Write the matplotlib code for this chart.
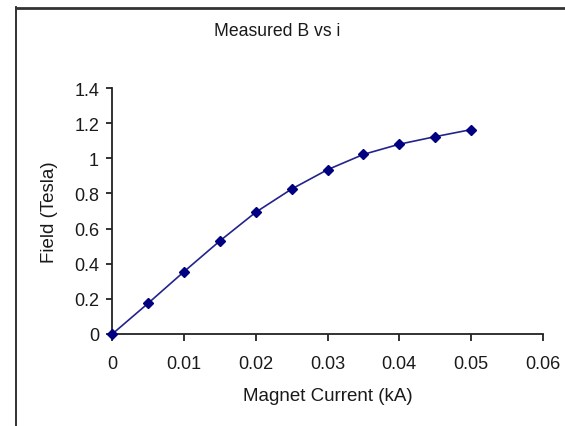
import matplotlib
matplotlib.use("Agg")
import matplotlib.pyplot as plt
from matplotlib.lines import Line2D

current_kA = [0.0, 0.005, 0.01, 0.015, 0.02, 0.025, 0.03, 0.035, 0.04, 0.045, 0.05]
field_T = [0.0, 0.175, 0.355, 0.53, 0.693, 0.825, 0.935, 1.022, 1.08, 1.123, 1.163]
x_ticks = [0, 0.01, 0.02, 0.03, 0.04, 0.05, 0.06]
x_tick_labels = ["0", "0.01", "0.02", "0.03", "0.04", "0.05", "0.06"]
y_ticks = [0, 0.2, 0.4, 0.6, 0.8, 1.0, 1.2, 1.4]
y_tick_labels = ["0", "0.2", "0.4", "0.6", "0.8", "1", "1.2", "1.4"]

plt.rcParams['font.family'] = ['Liberation Sans', 'DejaVu Sans']

W, H = 565, 427
fig = plt.figure(figsize=(W / 100, H / 100), dpi=100)
ax = fig.add_axes([112.3 / W, 1 - 335 / H, (542.7 - 112.3) / W, (335 - 89) / H])

ax.plot(current_kA, field_T, color='#23238c', lw=1.2, marker='D', markersize=5.5,
        markerfacecolor='#000080', markeredgecolor='#000080', clip_on=False, zorder=3)

ax.set_xlim(0, 0.06)
ax.set_ylim(0, 1.4)
ax.set_xticks(x_ticks)
ax.set_xticklabels(x_tick_labels)
ax.set_yticks(y_ticks)
ax.set_yticklabels(y_tick_labels)

for s in ['top', 'right']:
    ax.spines[s].set_visible(False)
for s in ['left', 'bottom']:
    ax.spines[s].set_linewidth(1.3)
    ax.spines[s].set_color('#222222')

ax.tick_params(axis='y', direction='out', length=4.5, width=1.3, pad=5, labelsize=13, colors='#222222')
ax.tick_params(axis='x', direction='out', length=5, width=1.3, pad=10, labelsize=13, colors='#222222')
for lbl in ax.get_xticklabels() + ax.get_yticklabels():
    lbl.set_color('#1a1a1a')

fig.text(276.7 / W, 1 - 31.7 / H, "Measured B vs i", ha='center', va='center', fontsize=12.7, color='#1a1a1a')
fig.text(328 / W, 1 - 396.7 / H, "Magnet Current (kA)", ha='center', va='center', fontsize=13.5, color='#1a1a1a')
fig.text(50 / W, 1 - 211.7 / H, "Field (Tesla)", ha='center', va='center', rotation=90, fontsize=13.5, color='#1a1a1a')

# outer chart-area border (left and top edges visible)
fig.add_artist(Line2D([16 / W, 16 / W], [0, 1 - 8 / H], color='#222222', lw=1.3, transform=fig.transFigure))
fig.add_artist(Line2D([16 / W, 1], [1 - 8.5 / H, 1 - 8.5 / H], color='#333333', lw=2.0, transform=fig.transFigure))

fig.savefig("out.png", dpi=100)
